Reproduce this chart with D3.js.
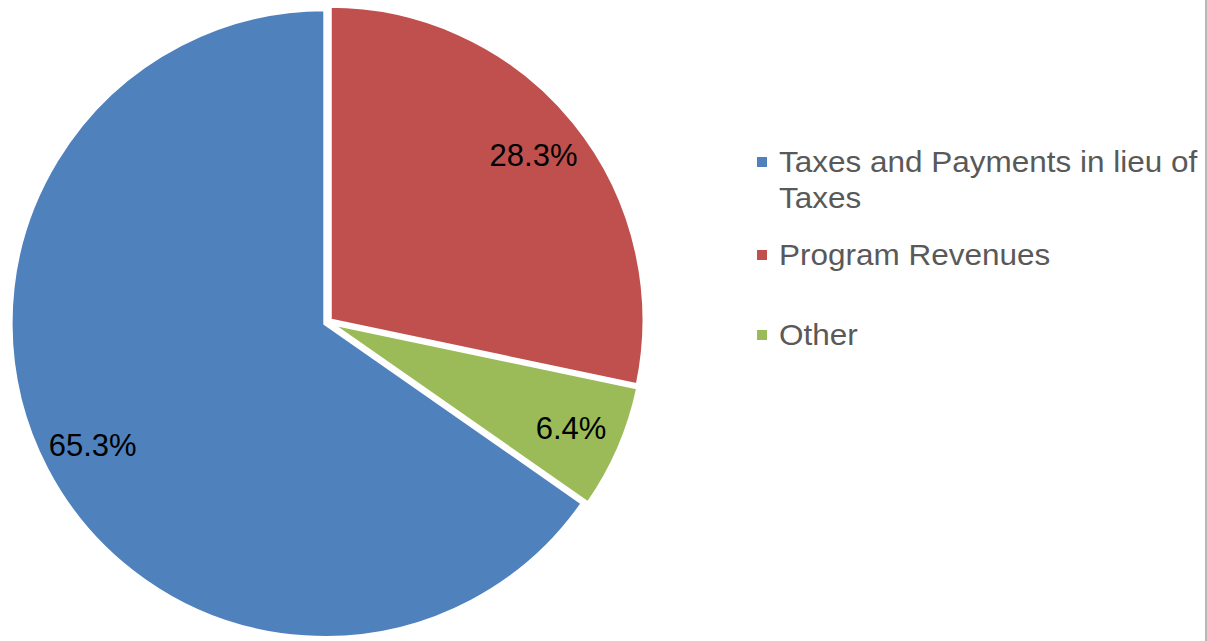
<!DOCTYPE html>
<html>
  <head>
    <script src="https://d3js.org/d3.v7.min.js"></script>
    <style>
      body { margin: 0; background: #fff; }
      text { font-family: "Liberation Sans", Arial, sans-serif; }
    </style>
  </head>
  <body>
<script type="text/javascript">
var categories = ['Taxes and Payments in lieu of Taxes', 'Program Revenues', 'Other'];
var values = [65.3, 28.3, 6.4];
var labels = ['65.3%', '28.3%', '6.4%'];
var legendLines = [['Taxes and Payments in lieu of', 'Taxes'], ['Program Revenues'], ['Other']];
var colors = ['#4F81BD', '#C0504D', '#9BBB59'];

var width = 1207, height = 641;
var cx = 327.7, cy = 322.1, radius = 314;
var explode = 3.1;

var svg = d3.select('body').append('svg')
      .attr('width', width)
      .attr('height', height);

// first slice (Taxes) starts where the other two end, so the red one sits at 12 o'clock
var firstAngle = 2 * Math.PI * (1 - values[0] / d3.sum(values));
var pie = d3.pie()
      .sort(null)
      .startAngle(firstAngle)
      .endAngle(firstAngle + 2 * Math.PI);

var arc = d3.arc().innerRadius(0).outerRadius(radius);
var labelArc = d3.arc().innerRadius(262).outerRadius(262);

function shift(d) {
  var a = (d.startAngle + d.endAngle) / 2;
  return [Math.sin(a) * explode, -Math.cos(a) * explode];
}

var slices = svg.append('g')
      .attr('transform', 'translate(' + cx + ',' + cy + ')')
      .selectAll('g')
      .data(pie(values))
      .enter()
      .append('g')
      .attr('transform', function(d) { var s = shift(d); return 'translate(' + s[0] + ',' + s[1] + ')'; });

slices.append('path')
      .attr('d', arc)
      .attr('fill', function(d, i) { return colors[i]; })
      .attr('stroke', '#fff')
      .attr('stroke-width', 3.3)
      .attr('stroke-linejoin', 'miter');

slices.append('text')
      .attr('transform', function(d) { return 'translate(' + labelArc.centroid(d) + ')'; })
      .attr('text-anchor', 'middle')
      .attr('dy', '0.36em')
      .attr('font-size', '31px')
      .attr('fill', '#000')
      .text(function(d, i) { return labels[i]; });

// legend
var legendX = 757, textX = 779;
var legendTops = [172, 265, 345]; // baselines of the first line of each item
var legend = svg.append('g');
legendLines.forEach(function(lines, i) {
  legend.append('rect')
      .attr('x', legendX)
      .attr('y', legendTops[i] - 15)
      .attr('width', 10)
      .attr('height', 10)
      .attr('fill', colors[i]);
  var t = legend.append('text')
      .attr('x', 0)
      .attr('y', legendTops[i])
      .attr('transform', 'translate(' + textX + ',0) scale(1.05,1)')
      .attr('font-size', '30px')
      .attr('fill', '#595959');
  lines.forEach(function(line, j) {
    t.append('tspan')
        .attr('x', 0)
        .attr('dy', j === 0 ? 0 : 36)
        .text(line);
  });
});

// right border of the plot area
svg.append('line')
      .attr('x1', 1206).attr('x2', 1206)
      .attr('y1', 0).attr('y2', height)
      .attr('stroke', '#a0a0a0')
      .attr('stroke-width', 1.5);
</script>
  </body>
</html>
